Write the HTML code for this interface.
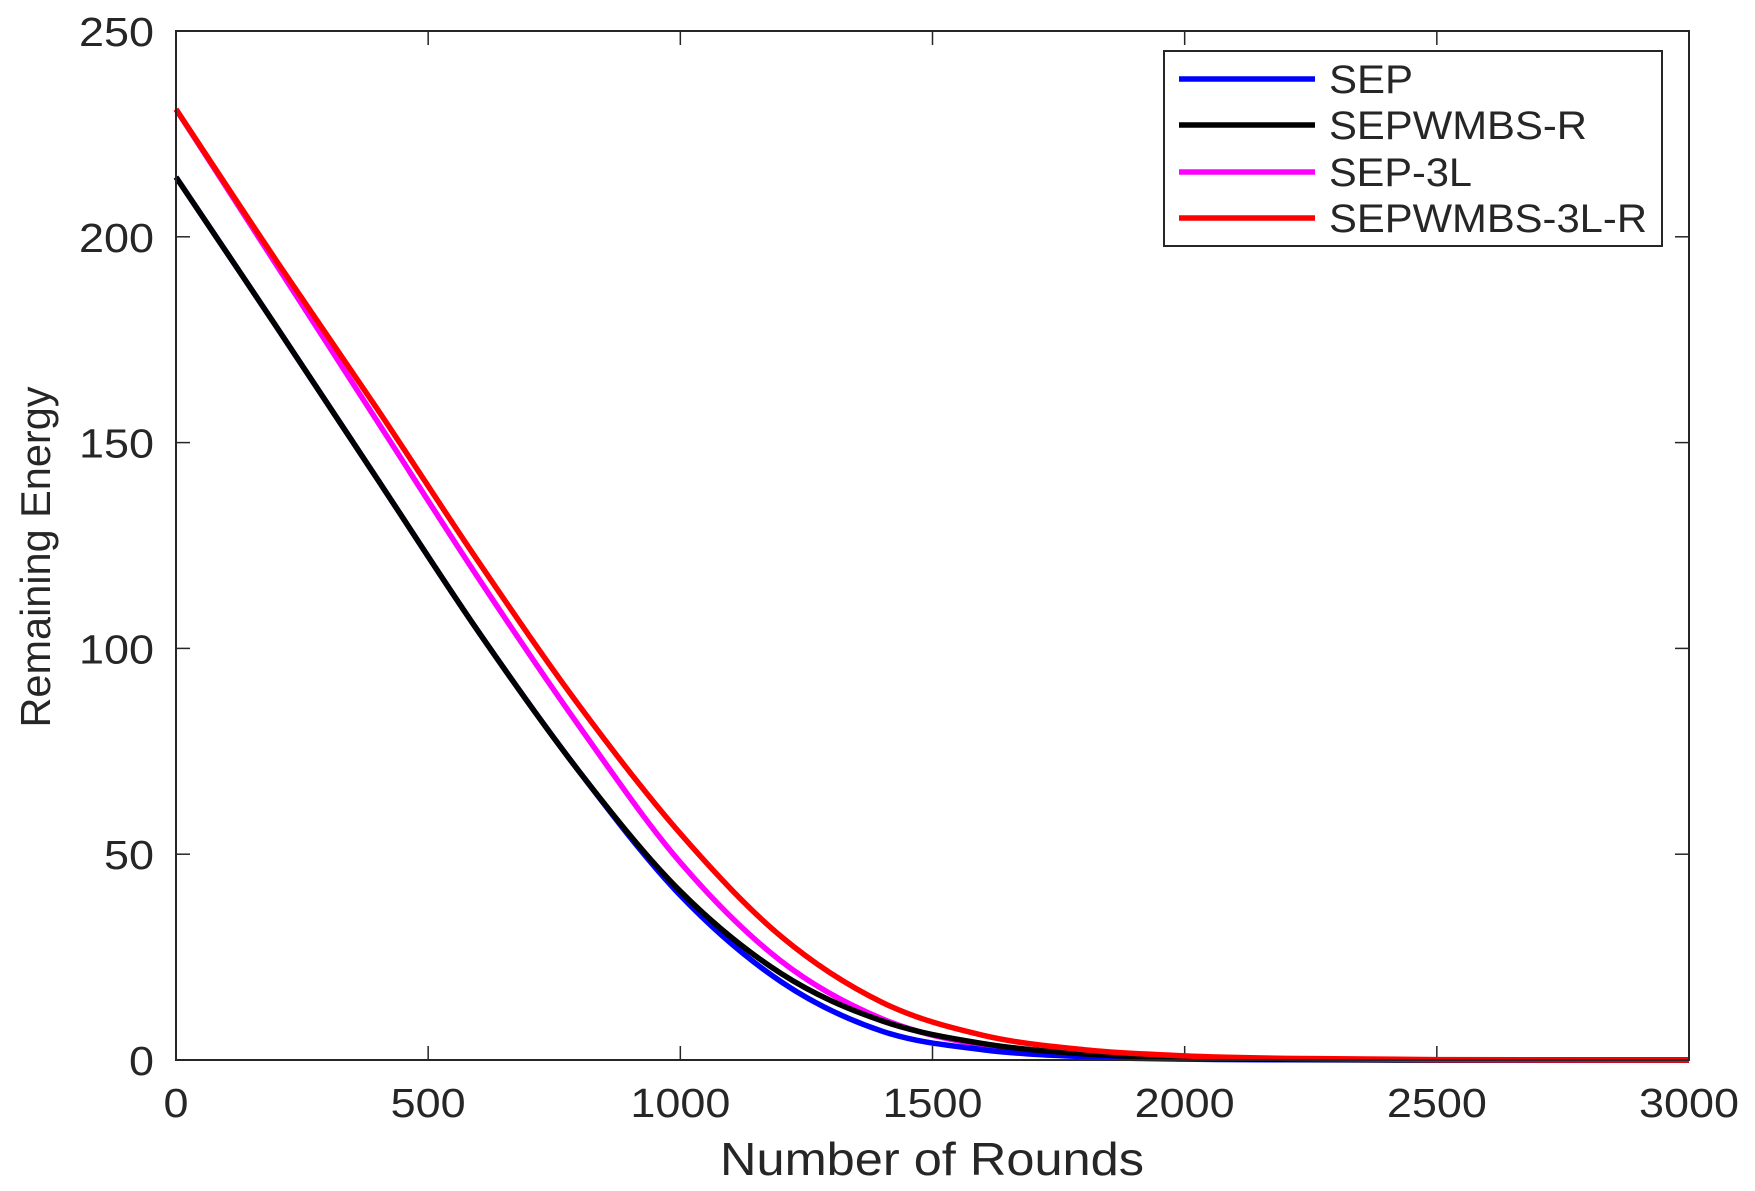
<!DOCTYPE html>
<html><head><meta charset="utf-8"><style>
html,body{margin:0;padding:0;background:#fff;}
svg{display:block;}
text{font-family:"Liberation Sans",Arial,sans-serif;fill:#262626;}
</style></head><body>
<svg id="s" width="1755" height="1191" viewBox="0 0 1755 1191" xmlns="http://www.w3.org/2000/svg">
<rect x="0" y="0" width="1755" height="1191" fill="#fff"/>
<g id="ticks" stroke="#262626" stroke-width="1.5"></g>
<g id="curves" fill="none" stroke-width="5.5" stroke-linejoin="round"></g>
<rect x="176" y="31" width="1513" height="1029" fill="none" stroke="#262626" stroke-width="2"/>
<g id="labels" font-size="41"></g>
<text x="932" y="1175" font-size="46" text-anchor="middle" textLength="424" lengthAdjust="spacingAndGlyphs">Number of Rounds</text>
<text transform="translate(50,557) rotate(-90)" font-size="42" text-anchor="middle" textLength="341" lengthAdjust="spacingAndGlyphs">Remaining Energy</text>
<rect x="1164" y="51" width="498" height="195" fill="#fff" stroke="#262626" stroke-width="2"/>
<g stroke-width="5.5">
<line x1="1179" y1="79" x2="1315" y2="79" stroke="#0000ff"/>
<line x1="1179" y1="125" x2="1315" y2="125" stroke="#000"/>
<line x1="1179" y1="172" x2="1315" y2="172" stroke="#ff00ff"/>
<line x1="1179" y1="218" x2="1315" y2="218" stroke="#ff0000"/>
</g>
<g font-size="40" fill="#000">
<text x="1329" y="93" textLength="84" lengthAdjust="spacingAndGlyphs">SEP</text>
<text x="1329" y="139" textLength="258" lengthAdjust="spacingAndGlyphs">SEPWMBS-R</text>
<text x="1329" y="186" textLength="143" lengthAdjust="spacingAndGlyphs">SEP-3L</text>
<text x="1329" y="232" textLength="318" lengthAdjust="spacingAndGlyphs">SEPWMBS-3L-R</text>
</g>
</svg>
<script>
var L=176,R=1689,T=31,B=1060;
function X(v){return L+v/3000*(R-L);}function Y(v){return B-v/250*(B-T);}
var ns="http://www.w3.org/2000/svg";
var tk=document.getElementById('ticks'),lb=document.getElementById('labels');
function el(p,tag,a,txt){var e=document.createElementNS(ns,tag);for(var k in a)e.setAttribute(k,a[k]);if(txt!=null)e.textContent=txt;p.appendChild(e);return e;}
for(var i=0;i<=6;i++){var x=X(i*500);
el(tk,'line',{x1:x,y1:B,x2:x,y2:B-14});el(tk,'line',{x1:x,y1:T,x2:x,y2:T+14});
var s=String(i*500);
el(lb,'text',{x:x,y:1117,'text-anchor':'middle',textLength:s.length*25,lengthAdjust:'spacingAndGlyphs'},s);}
for(var i=0;i<=5;i++){var y=Y(i*50);
el(tk,'line',{x1:L,y1:y,x2:L+14,y2:y});el(tk,'line',{x1:R,y1:y,x2:R-14,y2:y});
var s=String(i*50);
el(lb,'text',{x:154,y:y+15,'text-anchor':'end',textLength:s.length*25,lengthAdjust:'spacingAndGlyphs'},s);}
var xs=[0,200,400,600,800,1000,1200,1400,1600,1800,2000,2200,2500,3000];
var S={
'#ff00ff':[231,193,155,117,81,48,24,10,3.5,1,0.3,0.1,0,0],
'#0000ff':[214.5,178,141,104,70,40,19,7,2.5,0.8,0.2,0.05,0,0],
'#000000':[214.5,178,141,104,70,41,21,9.5,4,1.5,0.5,0.15,0,0],
'#ff0000':[231,194,158,121,86,55,30,14,6,2.5,1,0.4,0.1,0]};
var cg=document.getElementById('curves');
for(var c in S){var v=S[c],pts=xs.map(function(x,i){return [X(x),Y(v[i])];});
var d='M'+pts[0][0]+','+pts[0][1];
for(var i=0;i<pts.length-1;i++){var p0=pts[Math.max(0,i-1)],p1=pts[i],p2=pts[i+1],p3=pts[Math.min(pts.length-1,i+2)];
var c1=[p1[0]+(p2[0]-p0[0])/6,p1[1]+(p2[1]-p0[1])/6],c2=[p2[0]-(p3[0]-p1[0])/6,p2[1]-(p3[1]-p1[1])/6];
c1[1]=Math.min(c1[1],B);c2[1]=Math.min(c2[1],B);
d+=' C'+c1+' '+c2+' '+p2;}
el(cg,'path',{d:d,stroke:c});}
</script>
</body></html>
